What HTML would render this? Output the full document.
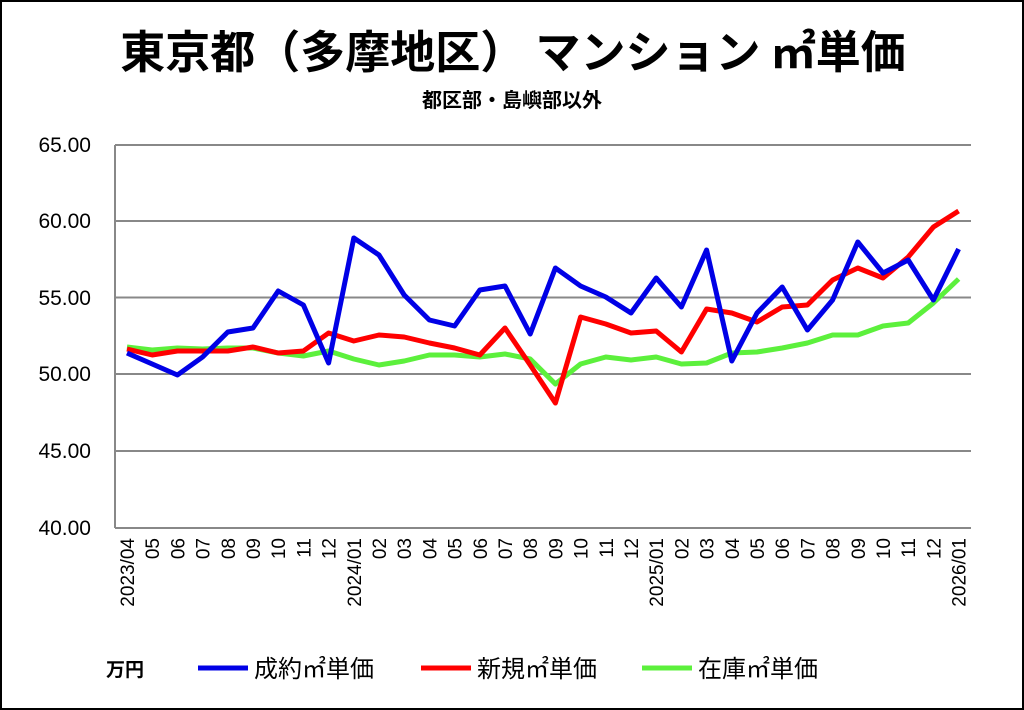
<!DOCTYPE html>
<html><head><meta charset="utf-8"><style>
body{margin:0;background:#fff}
svg{display:block;font-family:"Liberation Sans","Noto Sans CJK JP",sans-serif}
</style></head><body>
<svg width="1024" height="710" viewBox="0 0 1024 710">
<rect x="1" y="1" width="1022" height="708" fill="#fff" stroke="#000" stroke-width="2"/>
<text x="513" y="68" text-anchor="middle" font-size="45" font-weight="bold" font-family="'Noto Sans CJK JP',sans-serif">東京都（多摩地区） マンション ㎡単価</text>
<text x="512" y="107" text-anchor="middle" font-size="20" font-weight="bold" font-family="'Noto Sans CJK JP',sans-serif">都区部・島嶼部以外</text>
<g stroke="#888" stroke-width="2">
<line x1="115" y1="145" x2="971" y2="145"/><line x1="115" y1="221" x2="971" y2="221"/><line x1="115" y1="297.5" x2="971" y2="297.5"/><line x1="115" y1="374" x2="971" y2="374"/><line x1="115" y1="451" x2="971" y2="451"/><line x1="115" y1="528" x2="971" y2="528"/>
<line x1="115" y1="145" x2="115" y2="528"/>
</g>
<g font-size="21" text-anchor="end" fill="#000">
<text x="91" y="152">65.00</text><text x="91" y="228">60.00</text><text x="91" y="305">55.00</text><text x="91" y="381">50.00</text><text x="91" y="458">45.00</text><text x="91" y="535">40.00</text>
</g>
<g id="xl" font-size="19" text-anchor="end"></g>
<g fill="none" stroke-width="5" stroke-linejoin="round">
<polyline id="g" stroke="#5cf03c"/>
<polyline id="r" stroke="#f00"/>
<polyline id="b" stroke="#0000e6"/>
</g>
<g font-family="'Noto Sans CJK JP',sans-serif" font-size="24">
<text x="106" y="676" font-weight="bold" font-size="19">万円</text>
<line x1="198" y1="668" x2="248" y2="668" stroke="#0000e6" stroke-width="5"/><text x="254" y="677">成約㎡単価</text>
<line x1="421" y1="668" x2="471" y2="668" stroke="#f00" stroke-width="5"/><text x="477" y="677">新規㎡単価</text>
<line x1="642" y1="668" x2="692" y2="668" stroke="#5cf03c" stroke-width="5"/><text x="698" y="677">在庫㎡単価</text>
</g>
</svg>
<script>
var B=[353,364,375,357,332,328,291,305,363,238,255,295,320,326,290,286,334,268,286,297,313,278,307,250,361,313,287,330,300,242,273,260,300,249];
var R=[349,355,351,351,351,347,353,351,333,341,335,337,343,348,355,328,365,403,317,324,333,331,352,309,313,322,307,305,280,268,278,257,227,211];
var G=[347,350,348,349,348,348,353,356,351,359,365,361,355,355,357,354,359,384,364,357,360,357,364,363,353,352,348,343,335,335,326,323,303,279];
function pts(a){return a.map(function(y,i){return (127+i*25.2).toFixed(1)+","+y}).join(" ")}
document.getElementById("b").setAttribute("points",pts(B));
document.getElementById("r").setAttribute("points",pts(R));
document.getElementById("g").setAttribute("points",pts(G));
var labs=["2023/04","05","06","07","08","09","10","11","12","2024/01","02","03","04","05","06","07","08","09","10","11","12","2025/01","02","03","04","05","06","07","08","09","10","11","12","2026/01"];
var s="";labs.forEach(function(l,i){var x=127+i*25.2+7;s+='<text transform="translate('+x.toFixed(1)+',538) rotate(-90)">'+l+'</text>';});
document.getElementById("xl").innerHTML=s;
</script>
</body></html>
